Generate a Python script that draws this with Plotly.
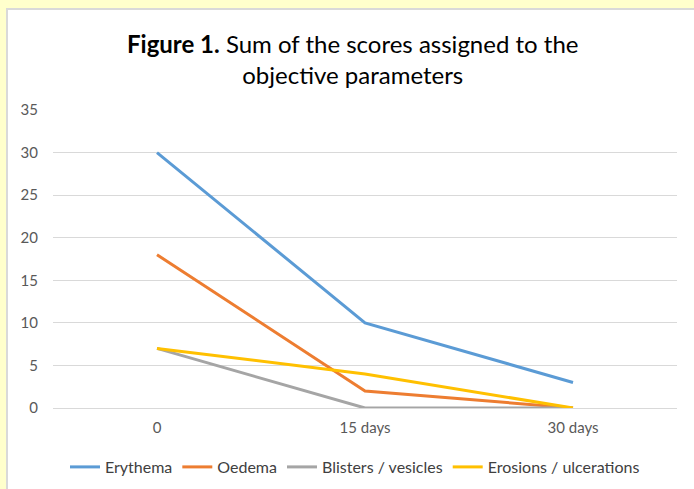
import plotly.graph_objects as go

categories = ["0", "15 days", "30 days"]
erythema = [30, 10, 3]
oedema = [18, 2, 0]
blisters = [7, 0, 0]
erosions = [7, 4, 0]

series = [
    ("Erythema", erythema, "#5B9BD5"),
    ("Oedema", oedema, "#ED7D31"),
    ("Blisters / vesicles", blisters, "#A5A5A5"),
    ("Erosions / ulcerations", erosions, "#FFC000"),
]

fig = go.Figure()
for name, vals, col in series:
    fig.add_trace(go.Scatter(x=categories, y=vals, name=name, mode="lines",
                             line=dict(color=col, width=3)))

font_family = "Lato, 'Open Sans', sans-serif"
W, H = 694, 489
PW, PH = 624, 298
BG = "#FFFFCC"

fig.update_layout(
    width=W, height=H,
    paper_bgcolor=BG,
    plot_bgcolor="white",
    margin=dict(l=53, r=17, t=110, b=81, autoexpand=False),
    showlegend=True,
    legend=dict(orientation="h", xref="container", x=355 / W, xanchor="center",
                yref="container", y=(H - 467) / H, yanchor="middle",
                font=dict(family=font_family, size=16, color="#404040"),
                bgcolor="rgba(0,0,0,0)", itemwidth=30, tracegroupgap=0),
    font=dict(family=font_family, color="#595959"),
    shapes=[dict(type="rect", xref="paper", yref="paper",
                 x0=(7 - 53) / PW, x1=(710 - 53) / PW,
                 y0=-(81 + 10) / PH, y1=(H - 9 - 81) / PH,
                 fillcolor="white", line=dict(color="#D9D9D9", width=2),
                 layer="below")],
    annotations=[dict(xref="paper", yref="paper",
                      x=(352 - 53) / PW, y=(H - 59 - 81) / PH,
                      xanchor="center", yanchor="middle", showarrow=False,
                      text="<b>Figure 1.</b> Sum of the scores assigned to the<br>objective parameters",
                      font=dict(family=font_family, size=24, color="#000000"),
                      align="center")],
)

fig.update_xaxes(type="category", range=[-0.5, 2.5], showgrid=False,
                 showline=True, linecolor="#D9D9D9", linewidth=1,
                 ticks="", tickfont=dict(size=15, color="#595959"),
                 ticklabelstandoff=6, fixedrange=True)
fig.update_yaxes(range=[0, 35], dtick=5, showgrid=True, gridcolor="#D9D9D9",
                 gridwidth=1, zeroline=False, showline=False, ticks="",
                 tickfont=dict(size=15, color="#595959"), ticklabelstandoff=14,
                 fixedrange=True)

fig.write_html("out.html", config={"displayModeBar": False},
               post_script="document.body.style.margin='0';document.body.style.background='" + BG + "';")
